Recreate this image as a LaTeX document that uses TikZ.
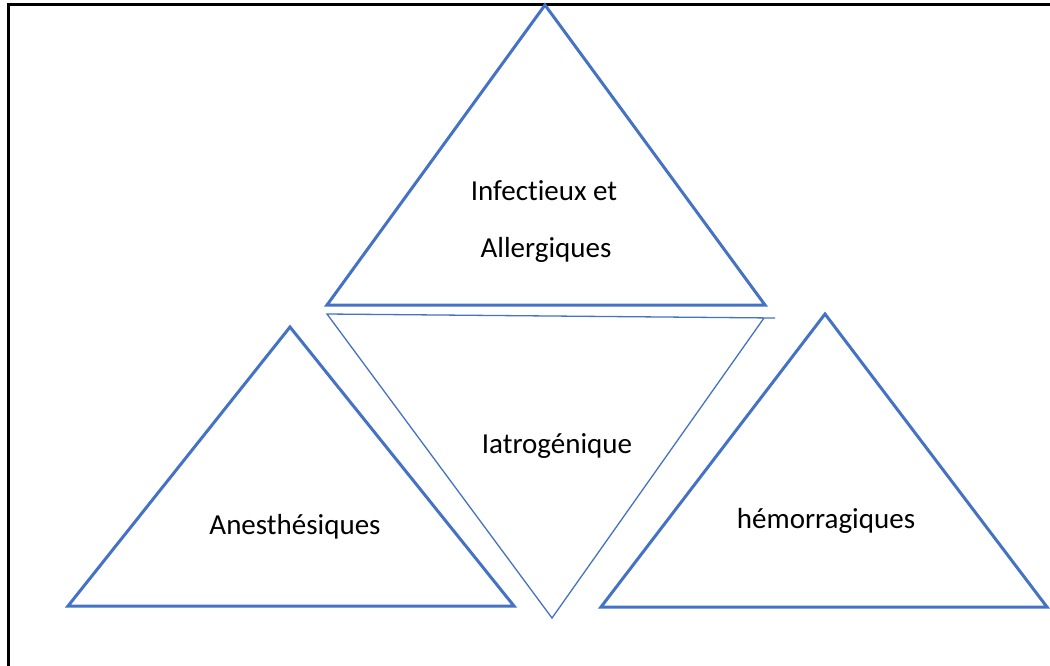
\documentclass[tikz,border=0pt]{standalone}
\usepackage{fontspec}
\setmainfont{Carlito}[Ligatures=NoCommon]
\usepackage{xcolor}
\usepackage{tikz}
\usetikzlibrary{positioning,calc}
\definecolor{triblue}{HTML}{4472C4}

\begin{document}
\begin{tikzpicture}[x=1pt,y=-1pt,
    tri/.style={draw=triblue, line width=3pt, line join=miter},
    trithin/.style={draw=triblue, line width=1.3pt},
    lbl/.style={font=\fontsize{29}{34}\selectfont, anchor=base, inner sep=0pt}]
    \useasboundingbox (0,0) rectangle (1050,665);
    % frame
    \coordinate (fbl) at (8,670);
    \coordinate (ftl) at (8,4);
    \coordinate (ftr) at (1055,4);
    \draw[line width=3pt] (fbl) -- (ftl) -- (ftr);

    % top triangle
    \coordinate (ta) at (545,5);
    \coordinate (tl) at (327,305);
    \coordinate (tr) at (765,305);
    \draw[tri] (ta) -- (tl) -- (tr) -- cycle;
    % middle (upside down)
    \coordinate (ml) at (327,314);
    \coordinate (mr) at (775,318);
    \coordinate (mk) at (764,318);
    \coordinate (mb) at (552,618);
    \draw[trithin] (mr) -- (ml) -- (mb) -- (mk);
    % left triangle
    \coordinate (la) at (290,327);
    \coordinate (ll) at (68,606);
    \coordinate (lr) at (514,606);
    \draw[tri] (la) -- (ll) -- (lr) -- cycle;
    % right triangle
    \coordinate (ra) at (825,314);
    \coordinate (rl) at (601,607);
    \coordinate (rr) at (1047,607);
    \draw[tri] (ra) -- (rl) -- (rr) -- cycle;

    \node[lbl] (infect) at (544,200) {Infectieux et};
    \node[lbl] (allerg) at (546,257) {Allergiques};
    \node[lbl] (iatro) at (557,453) {Iatrogénique};
    \node[lbl] (anest) at (295,534) {Anesthésiques};
    \node[lbl] (hemor) at (826,528) {hémorragiques};
\end{tikzpicture}
\end{document}
